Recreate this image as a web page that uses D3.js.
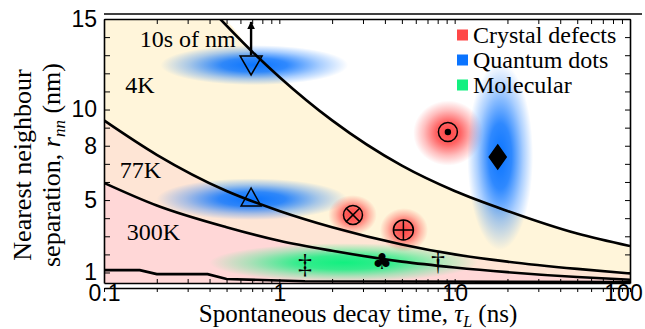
<!DOCTYPE html>
<html>
<head>
<meta charset="utf-8">
<script src="https://cdn.jsdelivr.net/npm/d3@7"></script>
<style>
  body { margin: 0; background: #fff; }
  svg { display: block; font-family: "Liberation Serif", "Times New Roman", serif; }
</style>
</head>
<body>
<div id="chart"></div>
<script>
// Boundary curves (tau in ns, r in nm)
const tau = [0.1, 0.2, 0.5, 1, 2, 5, 10, 20, 50, 100]
const r77K = [9.4, 7.5, 5.5, 4.4, 3.5, 2.55, 2.0, 1.6, 1.2, 0.95]
const r300K = [5.95, 4.7, 3.5, 2.75, 2.2, 1.6, 1.28, 1.02, 0.75, 0.6]
const tau4K = [0.46, 0.7, 1, 2, 5, 10, 20, 50, 100]
const r4K = [15.0, 13.2, 11.8, 9.4, 6.9, 5.5, 4.4, 3.15, 2.46]
const tauFloor = [0.1, 0.16, 0.2, 0.39, 0.5, 1.4, 100]
const rFloor = [1.13, 1.13, 0.91, 0.91, 0.64, 0.52, 0.47]

// Emitters
const markerKind = ["triDown", "triUp", "odot", "diamond", "otimes", "oplus", "ddagger", "club", "dagger"]
const markerTau = [0.69, 0.69, 9.15, 17.6, 2.63, 5.1, 1.4, 3.86, 8.04]
const markerR = [12.46, 5.17, 8.76, 7.38, 4.18, 3.35, 1.52, 1.58, 1.69]

// Spread of each emitter class (tau range, r range)
const blobClass = ["Quantum dots", "Quantum dots", "Crystal defects", "Quantum dots", "Crystal defects", "Crystal defects", "Molecular"]
const blobTau = [[0.21, 2.47], [0.2, 2.44], [5.8, 14.5], [11.8, 28], [1.9, 3.6], [3.75, 7.05], [0.4, 13.6]]
const blobR = [[11.35, 13.56], [3.9, 6.2], [6.9, 10.5], [2.24, 12.6], [3.07, 5.28], [2.13, 4.56], [0.47, 2.62]]

// Legend
const legendNames = ["Crystal defects", "Quantum dots", "Molecular"]
const legendColors = ["#ff4747", "#0a74ff", "#12f080"]

// Region labels
const regionText = ["10s of nm", "4K", "77K", "300K"]
const regionTau = [0.16, 0.132, 0.123, 0.135]
const regionR = [13.45, 10.91, 6.22, 2.79]

// Arrow above the top quantum dot
const arrowTau = 0.69
const arrowR = [13.0, 15.0]

// Ticks
const xLabelTicks = [0.1, 1, 10, 100]
const yLabelTicks = [1, 5, 8, 10, 15]
const yMinorTicks = d3.range(1, 16)

// Create SVG
const width = 645, height = 329
const margin = { top: 19, right: 15, bottom: 46, left: 104 }
const svg = d3.select("#chart").append("svg").attr("width", width).attr("height", height)
const x = d3.scaleLog().domain([0.1, 100]).range([margin.left, width - margin.right])
const y = d3.scaleLinear().domain([0.42, 15]).range([height - margin.bottom, margin.top])
const [x0, x1] = x.range(), [y0, y1] = y.range()

const defs = svg.append("defs")
defs.append("clipPath").attr("id", "plot").append("rect")
  .attr("x", x0).attr("y", y1).attr("width", x1 - x0).attr("height", y0 - y1)

// Blob gradients, one per class
legendNames.forEach((name, i) => {
  const g = defs.append("radialGradient").attr("id", `grad${i}`)
  g.append("stop").attr("offset", "0%").attr("stop-color", legendColors[i]).attr("stop-opacity", 1)
  g.append("stop").attr("offset", "35%").attr("stop-color", legendColors[i]).attr("stop-opacity", 0.85)
  g.append("stop").attr("offset", "70%").attr("stop-color", legendColors[i]).attr("stop-opacity", 0.35)
  g.append("stop").attr("offset", "100%").attr("stop-color", legendColors[i]).attr("stop-opacity", 0)
})

const plot = svg.append("g").attr("clip-path", "url(#plot)")

// Render filled regions
const pts = (ts, rs) => ts.map((t, i) => [t, rs[i]])
const area = d3.area().x(d => x(d[0])).y0(y0).y1(d => y(d[1])).curve(d3.curveMonotoneX)
plot.append("path").attr("fill", "#fff5da")
  .attr("d", area([[0.1, 15], ...pts(tau4K, r4K)]))
plot.append("path").attr("fill", "#fee5d5").attr("d", area(pts(tau, r77K)))
plot.append("path").attr("fill", "#ffd7d7").attr("d", area(pts(tau, r300K)))

// Render blobs
plot.append("g").selectAll("ellipse")
  .data(blobClass.map((c, i) => ({ c, t: blobTau[i], r: blobR[i] })))
  .join("ellipse")
  .attr("cx", d => (x(d.t[0]) + x(d.t[1])) / 2)
  .attr("cy", d => (y(d.r[0]) + y(d.r[1])) / 2)
  .attr("rx", d => (x(d.t[1]) - x(d.t[0])) / 2)
  .attr("ry", d => (y(d.r[0]) - y(d.r[1])) / 2)
  .attr("fill", d => `url(#grad${legendNames.indexOf(d.c)})`)

// Render boundary curves
const line = d3.line().x(d => x(d[0])).y(d => y(d[1])).curve(d3.curveMonotoneX)
const curves = plot.append("g").attr("fill", "none").attr("stroke", "#000").attr("stroke-width", 2.6)
curves.append("path").attr("d", line(pts(tau4K, r4K)))
curves.append("path").attr("d", line(pts(tau, r77K)))
curves.append("path").attr("d", line(pts(tau, r300K)))
curves.append("path").attr("d", d3.line().x(d => x(d[0])).y(d => y(d[1]))(pts(tauFloor, rFloor)))

// Render markers
const marks = svg.append("g").attr("stroke", "#000").attr("stroke-width", 1.5).attr("fill", "none")
markerKind.forEach((k, i) => {
  const g = marks.append("g").attr("transform", `translate(${x(markerTau[i])},${y(markerR[i])})`)
  if (k === "triDown") g.append("path").attr("d", "M-11,-9L11,-9L0,10Z")
  if (k === "triUp") g.append("path").attr("d", "M-10,9L10,9L0,-9Z")
  if (k === "diamond") g.append("path").attr("d", "M0,-12L8.5,0L0,12L-8.5,0Z").attr("fill", "#000")
  if (k === "odot") {
    g.append("circle").attr("r", 9.5)
    g.append("circle").attr("r", 3.2).attr("fill", "#000").attr("stroke", "none")
  }
  if (k === "otimes") {
    g.append("circle").attr("r", 9.5)
    g.append("path").attr("d", "M-6.7,-6.7L6.7,6.7M-6.7,6.7L6.7,-6.7")
  }
  if (k === "oplus") {
    g.append("circle").attr("r", 10)
    g.append("path").attr("d", "M-10,0H10M0,-10V10")
  }
  const glyph = { ddagger: "‡", dagger: "†", club: "♣" }[k]
  if (glyph) {
    g.append("text").attr("stroke", "none").attr("fill", "#000")
      .attr("text-anchor", "middle").attr("dominant-baseline", "central")
      .style("font-size", k === "club" ? "22px" : "28px")
      .style("font-family", k === "club" ? "DejaVu Sans" : null)
      .text(glyph)
  }
})

// Arrow
svg.append("defs").append("marker").attr("id", "head")
  .attr("viewBox", "0 0 10 10").attr("refX", 9).attr("refY", 5)
  .attr("markerWidth", 3.2).attr("markerHeight", 3.2).attr("orient", "auto")
  .append("path").attr("d", "M0,0L10,5L0,10Z").attr("fill", "#000")
svg.append("line")
  .attr("x1", x(arrowTau)).attr("x2", x(arrowTau))
  .attr("y1", y(arrowR[0])).attr("y2", y(arrowR[1]) + 3)
  .attr("stroke", "#000").attr("stroke-width", 2.4).attr("marker-end", "url(#head)")

// Region labels
svg.append("g").style("font-size", "24px").selectAll("text")
  .data(regionText).join("text")
  .attr("x", (_, i) => x(regionTau[i]))
  .attr("y", (_, i) => y(regionR[i]))
  .text(d => d)

// Axes
const xMinor = d3.range(-1, 2).flatMap(e => d3.range(1, 10).map(m => +(m * 10 ** e).toPrecision(3))).concat([100])
const axes = svg.append("g").style("font-family", "Liberation Serif")
const dropText = g => g.selectAll(".tick text").filter(function () { return this.textContent === "" }).remove()

axes.append("g").attr("transform", `translate(0,${y0})`)
  .call(d3.axisBottom(x).tickValues(xMinor).tickFormat(v => xLabelTicks.includes(v) ? String(v) : "")
    .tickSizeInner(-4).tickSizeOuter(0).tickPadding(2))
  .call(dropText)
  .call(g => g.selectAll(".tick text").filter(d => d === 100).attr("dx", -7))
axes.append("g").attr("transform", `translate(0,${y1})`)
  .call(d3.axisTop(x).tickValues(xMinor).tickFormat("").tickSizeInner(-5).tickSizeOuter(0))
  .call(dropText)
axes.append("g").attr("transform", `translate(${x0},0)`)
  .call(d3.axisLeft(y).tickValues(yMinorTicks).tickFormat(v => yLabelTicks.includes(v) ? String(v) : "")
    .tickSizeInner(-6).tickSizeOuter(0).tickPadding(7))
  .call(dropText)
axes.append("g").attr("transform", `translate(${x1},0)`)
  .call(d3.axisRight(y).tickValues(yMinorTicks).tickFormat("").tickSizeInner(-5).tickSizeOuter(0))
  .call(dropText)
// Outer frame lines
axes.append("g").attr("transform", `translate(0,${y0 + 5})`)
  .call(d3.axisBottom(x).tickValues(xMinor).tickFormat("").tickSizeInner(4).tickSizeOuter(0))
  .call(dropText)
axes.append("line").attr("x1", x0).attr("x2", x1 + 12).attr("y1", y1 - 5).attr("y2", y1 - 5)
  .attr("stroke", "#000").attr("stroke-width", 1.5)
axes.selectAll(".domain").attr("stroke-width", 1.6)
axes.selectAll(".tick text").style("font-size", "23px")

// Axis titles
svg.append("text").attr("x", 358).attr("y", 322).attr("text-anchor", "middle").style("font-size", "25px")
  .call(t => {
    t.append("tspan").text("Spontaneous decay time, ")
    t.append("tspan").style("font-style", "italic").text("τ")
    t.append("tspan").style("font-style", "italic").style("font-size", "16px").attr("dy", 5).text("L")
    t.append("tspan").attr("dy", -5).text(" (ns)")
  })
const yt = svg.append("g").attr("transform", "translate(0,165) rotate(-90)").style("font-size", "26px").attr("text-anchor", "middle")
yt.append("text").attr("y", 31).text("Nearest neighbour")
yt.append("text").attr("y", 60).call(t => {
  t.append("tspan").text("separation, ")
  t.append("tspan").style("font-style", "italic").text("r")
  t.append("tspan").style("font-style", "italic").style("font-size", "17px").attr("dy", 5).text("nn")
  t.append("tspan").attr("dy", -5).text(" (nm)")
})

// Legend
const legend = svg.append("g").attr("transform", "translate(457,35)")
legendNames.forEach((n, i) => {
  legend.append("rect").attr("x", 0).attr("y", i * 25 - 5.5).attr("width", 11).attr("height", 11).attr("fill", legendColors[i])
  legend.append("text").attr("x", 16).attr("y", i * 25 + 8).style("font-size", "24px").text(n)
})
</script>
</body>
</html>
